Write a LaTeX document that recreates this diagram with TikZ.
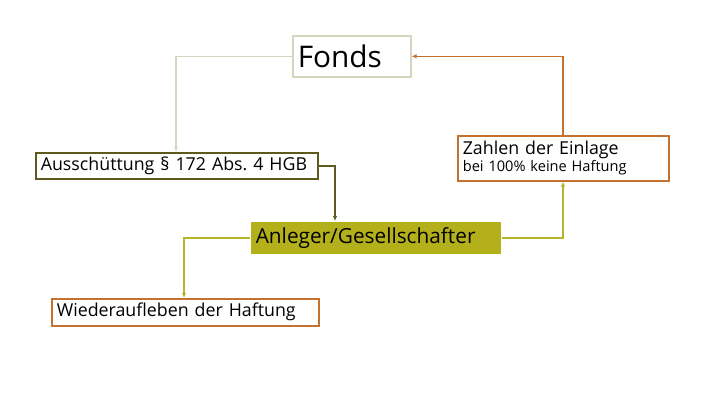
\documentclass[tikz,border=0pt]{standalone}
\usepackage{fontspec}
\setmainfont{Open Sans}
\usetikzlibrary{arrows.meta}
\definecolor{fondsline}{HTML}{D8D5BF}
\definecolor{einlage}{HTML}{C5712F}
\definecolor{ausschuett}{HTML}{5E5A1E}
\definecolor{anleger}{HTML}{B4B01B}
\definecolor{anlegerline}{HTML}{B8B42A}
\tikzset{
	box/.style={draw, line width=1.6pt, anchor=north west, align=left,
		inner xsep=5pt, inner ysep=0pt, font=\fontsize{17.8}{20}\selectfont},
	link/.style={line width=1.4pt, -{Latex[length=5pt,width=4.5pt]}}
}
\begin{document}
\begin{tikzpicture}[x=1pt,y=-1pt]
		\useasboundingbox (0,0) rectangle (720,405);
		%Corners of the boxes
		\coordinate (cFonds) at (292,35);
		\coordinate (cEinlage) at (457,135);
		\coordinate (cAussch) at (35,152);
		\coordinate (cAnleger) at (250,221);
		\coordinate (cWieder) at (51,298);
		%The boxes
		\node [box, draw=fondsline, text width=108pt, minimum height=41pt,
			font=\fontsize{29.8}{33}\selectfont] (fonds) at (cFonds) {Fonds};
		\node [box, draw=einlage, text width=201pt, minimum height=45pt] (einlage) at (cEinlage)
			{Zahlen der Einlage\\[-3pt]{\fontsize{14.6}{16}\selectfont\spaceskip=.3333em bei 100\% keine Haftung}};
		\node [box, draw=ausschuett, text width=272pt, minimum height=26pt] (aussch) at (cAussch)
			{Ausschüttung § 172 Abs.\ 4 HGB};
		\node [box, draw=none, fill=anleger, text width=240pt, minimum height=32pt,
			font=\fontsize{20.8}{24}\selectfont] (anleger) at (cAnleger) {Anleger/Gesellschafter};
		\node [box, draw=einlage, text width=257pt, minimum height=27pt] (wieder) at (cWieder)
			{Wiederaufleben der Haftung};
		%Connectors
		\draw [link, fondsline] (fonds.west) -| (aussch.north -| 176,0);
		\draw [link, einlage] (einlage.north -| 563,0) |- (fonds.east);
		\draw [link, ausschuett] (aussch.east) -| (anleger.north -| 335,0);
		\draw [link, anlegerline] (anleger.west) -| (wieder.north -| 184,0);
		\draw [link, anlegerline] (anleger.east) -| (einlage.south -| 563,0);
\end{tikzpicture}
\end{document}
